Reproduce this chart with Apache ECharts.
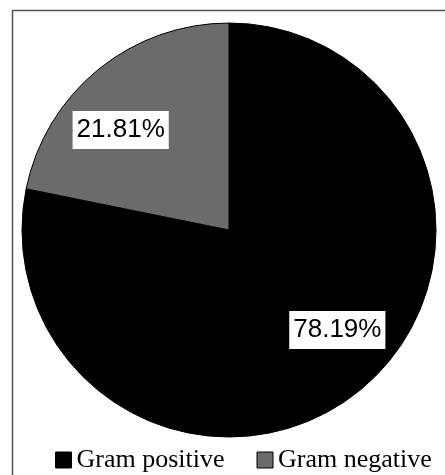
<!DOCTYPE html>
<html><head><meta charset="utf-8">
<script src="https://cdn.jsdelivr.net/npm/echarts@6/dist/echarts.min.js"></script>
<style>html,body{margin:0;padding:0;background:#fff}#c{width:445px;height:475px}</style>
</head><body><div id="c"></div>
<script>
const categories = ['Gram positive', 'Gram negative'];
const values = [78.19, 21.81];
const colors = ['#000000', '#6b6b6b'];

const data = categories.map((n, i) => ({name: n, value: values[i], itemStyle: {color: colors[i]}}));
const chart = echarts.init(document.getElementById('c'));
chart.setOption({
  animation: false,
  graphic: [{type: 'rect', shape: {x: 12.5, y: 10.5, width: 460, height: 480}, style: {fill: 'none', stroke: '#555', lineWidth: 1.5}, z: 100}],
  legend: {
    bottom: -3, left: 50, itemWidth: 16, itemHeight: 16, itemGap: 32,
    icon: 'rect',
    data: categories,
    itemStyle: {borderColor: '#000', borderWidth: 1},
    textStyle: {fontFamily: 'Liberation Serif', fontSize: 26, color: '#000'}
  },
  series: [{
    type: 'pie', center: [229, 230], radius: 207, startAngle: 90, clockwise: true,
    label: {show: false}, labelLine: {show: false},
    itemStyle: {borderColor: '#000', borderWidth: 1},
    data: data
  }, {
    type: 'pie', center: [229, 230], radius: [82, 207], startAngle: 98, clockwise: true,
    silent: true, legendHoverLink: false,
    itemStyle: {color: 'rgba(0,0,0,0)', borderWidth: 0},
    labelLine: {show: false},
    label: {
      show: true, position: 'inside',
      formatter: p => p.value.toFixed(2) + '%',
      fontFamily: 'Liberation Sans', fontSize: 26, color: '#000',
      backgroundColor: '#fff', padding: [7, 4, 5, 4]
    },
    data: categories.map((n, i) => ({name: n + ' ', value: values[i]}))
  }]
});
</script></body></html>
